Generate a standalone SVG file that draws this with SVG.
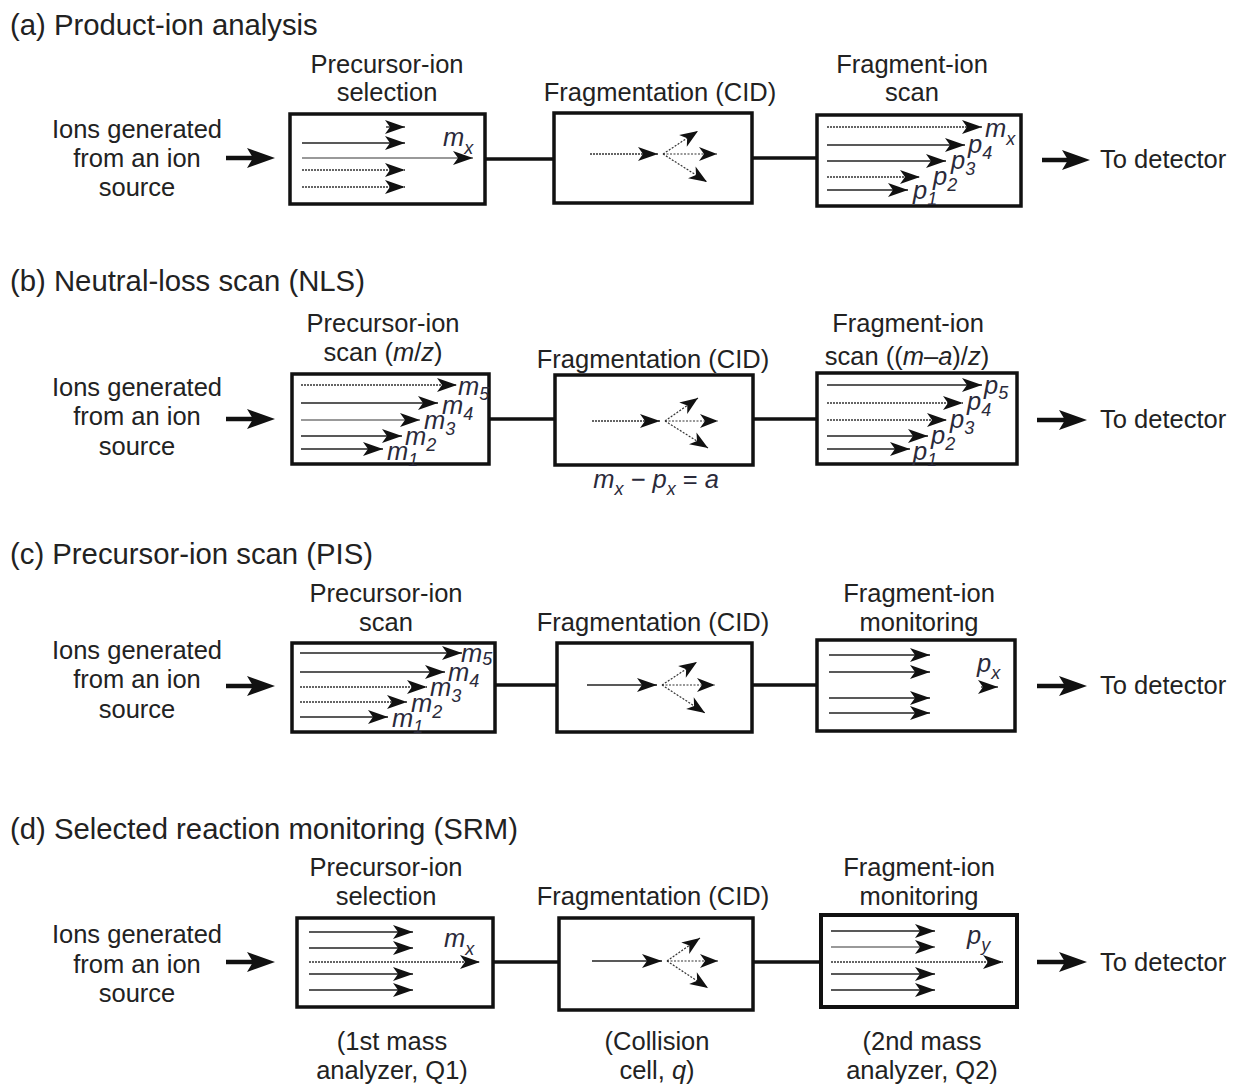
<svg xmlns="http://www.w3.org/2000/svg" width="1235" height="1084" viewBox="0 0 1235 1084">
<style>
text{font-family:"Liberation Sans",Arial,sans-serif;fill:#222}
.t{font-size:29.3px}
.b{font-size:25.5px}
.c{text-anchor:middle}
.it{font-style:italic;font-size:25.5px;fill:#2a2a3a}
.s{font-size:18px}
.box{fill:#fff;stroke:#111;stroke-width:3.5}
.ln{stroke:#222;stroke-width:1.3;fill:none;marker-end:url(#ah)}
.lg{stroke:#777;stroke-width:1.3;fill:none;marker-end:url(#ah)}
.dt{stroke:#333;stroke-width:1.3;stroke-dasharray:2 1;fill:none;marker-end:url(#ah)}
.br{stroke:#333;stroke-width:1.2;stroke-dasharray:2 1.5;fill:none;marker-end:url(#ah2)}
.cn{stroke:#111;stroke-width:3.5;fill:none}
.io{stroke:#111;stroke-width:4.5;fill:none;marker-end:url(#big)}
</style>
<defs>
<marker id="ah" markerUnits="userSpaceOnUse" markerWidth="21" markerHeight="15" refX="20" refY="7" orient="auto" overflow="visible">
<path d="M0,0 L20,7 L0,14 L5,7 Z" fill="#111"/>
</marker>
<marker id="ah2" markerUnits="userSpaceOnUse" markerWidth="19" markerHeight="15" refX="18" refY="7" orient="auto" overflow="visible">
<path d="M0,0 L18,7 L0,14 L5,7 Z" fill="#111"/>
</marker>
<marker id="big" markerUnits="userSpaceOnUse" markerWidth="28" markerHeight="20" refX="8" refY="10" orient="auto" overflow="visible">
<path d="M0,0 L28,10 L0,20 L6,10 Z" fill="#111"/>
</marker>
</defs>

<!-- Titles -->
<text class="t" x="10" y="35">(a) Product-ion analysis</text>
<text class="t" x="10" y="291">(b) Neutral-loss scan (NLS)</text>
<text class="t" x="10" y="564">(c) Precursor-ion scan (PIS)</text>
<text class="t" x="10" y="839">(d) Selected reaction monitoring (SRM)</text>

<!-- ===== Panel a ===== -->
<g id="a-source">
<text class="b c" x="137" y="138">Ions generated</text>
<text class="b c" x="137" y="167">from an ion</text>
<text class="b c" x="137" y="196">source</text>
</g>
<g id="a-precursor">
<text class="b c" x="387" y="73">Precursor-ion</text>
<text class="b c" x="387" y="101">selection</text>
<rect class="box" x="290" y="114" width="195" height="90"/>
<line class="ln" x1="386" y1="127" x2="405" y2="127"/>
<line class="ln" x1="302" y1="143" x2="405" y2="143"/>
<line class="lg" x1="302" y1="158" x2="473" y2="158"/>
<line class="dt" x1="302" y1="170" x2="405" y2="170"/>
<line class="dt" x1="302" y1="187" x2="405" y2="187"/>
<text class="it" x="443" y="146">m<tspan class="s" dy="8">x</tspan></text>
</g>
<g id="a-fragmentation">
<text class="b c" x="660" y="101">Fragmentation (CID)</text>
<rect class="box" x="554" y="113" width="198" height="90"/>
<line class="dt" x1="590" y1="154" x2="658" y2="154"/>
<line class="br" x1="663" y1="154" x2="698" y2="131"/>
<line class="br" x1="663" y1="154" x2="717" y2="154"/>
<line class="br" x1="663" y1="154" x2="707" y2="182"/>
</g>
<g id="a-fragment-scan">
<text class="b c" x="912" y="73">Fragment-ion</text>
<text class="b c" x="912" y="101">scan</text>
<rect class="box" x="817" y="115" width="204" height="91"/>
<line class="dt" x1="827" y1="127" x2="982" y2="127"/>
<line class="ln" x1="827" y1="145" x2="965" y2="145"/>
<line class="ln" x1="827" y1="161" x2="946" y2="161"/>
<line class="dt" x1="827" y1="177" x2="920" y2="177"/>
<line class="ln" x1="827" y1="190" x2="908" y2="190"/>
<text class="it" x="985" y="137">m<tspan class="s" dy="8">x</tspan></text>
<text class="it" x="968" y="153">p<tspan class="s" dy="6">4</tspan></text>
<text class="it" x="951" y="169">p<tspan class="s" dy="6">3</tspan></text>
<text class="it" x="933" y="185">p<tspan class="s" dy="6">2</tspan></text>
<text class="it" x="913" y="199">p<tspan class="s" dy="6">1</tspan></text>
</g>
<g id="a-detector">
<text class="b" x="1100" y="168">To detector</text>
</g>

<!-- ===== Panel b ===== -->
<g id="b-source">
<text class="b c" x="137" y="396">Ions generated</text>
<text class="b c" x="137" y="425">from an ion</text>
<text class="b c" x="137" y="455">source</text>
</g>
<g id="b-precursor">
<text class="b c" x="383" y="332">Precursor-ion</text>
<text class="b c" x="383" y="361">scan (<tspan font-style="italic">m</tspan>/<tspan font-style="italic">z</tspan>)</text>
<rect class="box" x="292" y="374" width="197" height="90"/>
<line class="dt" x1="301" y1="385" x2="457" y2="385"/>
<line class="ln" x1="301" y1="403" x2="438" y2="403"/>
<line class="lg" x1="301" y1="420" x2="420" y2="420"/>
<line class="ln" x1="301" y1="436" x2="402" y2="436"/>
<line class="ln" x1="301" y1="449" x2="383" y2="449"/>
<text class="it" x="458" y="395">m<tspan class="s" dy="5">5</tspan></text>
<text class="it" x="442" y="414">m<tspan class="s" dy="6">4</tspan></text>
<text class="it" x="424" y="429">m<tspan class="s" dy="6">3</tspan></text>
<text class="it" x="405" y="445">m<tspan class="s" dy="6">2</tspan></text>
<text class="it" x="387" y="460">m<tspan class="s" dy="6">1</tspan></text>
</g>
<g id="b-fragmentation">
<text class="b c" x="653" y="368">Fragmentation (CID)</text>
<rect class="box" x="555" y="375" width="198" height="90"/>
<line class="dt" x1="592" y1="421" x2="660" y2="421"/>
<line class="br" x1="665" y1="421" x2="698" y2="398"/>
<line class="br" x1="665" y1="421" x2="718" y2="421"/>
<line class="br" x1="665" y1="421" x2="708" y2="448"/>
<text class="it c" x="656" y="488">m<tspan class="s" dy="7">x</tspan><tspan dy="-7"> − p</tspan><tspan class="s" dy="7">x</tspan><tspan dy="-7" font-style="normal"> = </tspan>a</text>
</g>
<g id="b-fragment-scan">
<text class="b c" x="908" y="332">Fragment-ion</text>
<text class="b c" x="907" y="365">scan ((<tspan font-style="italic">m</tspan>–<tspan font-style="italic">a</tspan>)/<tspan font-style="italic">z</tspan>)</text>
<rect class="box" x="817" y="373" width="200" height="91"/>
<line class="ln" x1="827" y1="385" x2="982" y2="385"/>
<line class="dt" x1="827" y1="403" x2="963" y2="403"/>
<line class="dt" x1="827" y1="420" x2="947" y2="420"/>
<line class="ln" x1="827" y1="436" x2="928" y2="436"/>
<line class="ln" x1="827" y1="449" x2="910" y2="449"/>
<text class="it" x="984" y="394">p<tspan class="s" dy="5">5</tspan></text>
<text class="it" x="967" y="410">p<tspan class="s" dy="6">4</tspan></text>
<text class="it" x="950" y="428">p<tspan class="s" dy="6">3</tspan></text>
<text class="it" x="931" y="444">p<tspan class="s" dy="6">2</tspan></text>
<text class="it" x="913" y="460">p<tspan class="s" dy="6">1</tspan></text>
</g>
<g id="b-detector">
<text class="b" x="1100" y="428">To detector</text>
</g>

<!-- ===== Panel c ===== -->
<g id="c-source">
<text class="b c" x="137" y="659">Ions generated</text>
<text class="b c" x="137" y="688">from an ion</text>
<text class="b c" x="137" y="718">source</text>
</g>
<g id="c-precursor">
<text class="b c" x="386" y="602">Precursor-ion</text>
<text class="b c" x="386" y="631">scan</text>
<rect class="box" x="292" y="643" width="203" height="89"/>
<line class="ln" x1="300" y1="653" x2="462" y2="653"/>
<line class="ln" x1="300" y1="672" x2="445" y2="672"/>
<line class="dt" x1="300" y1="687" x2="427" y2="687"/>
<line class="dt" x1="300" y1="702" x2="407" y2="702"/>
<line class="ln" x1="300" y1="717" x2="388" y2="717"/>
<text class="it" x="461" y="662">m<tspan class="s" dy="3">5</tspan></text>
<text class="it" x="448" y="681">m<tspan class="s" dy="6">4</tspan></text>
<text class="it" x="430" y="696">m<tspan class="s" dy="6">3</tspan></text>
<text class="it" x="411" y="712">m<tspan class="s" dy="6">2</tspan></text>
<text class="it" x="392" y="727">m<tspan class="s" dy="6">1</tspan></text>
</g>
<g id="c-fragmentation">
<text class="b c" x="653" y="631">Fragmentation (CID)</text>
<rect class="box" x="557" y="643" width="195" height="89"/>
<line class="ln" x1="587" y1="685" x2="657" y2="685"/>
<line class="br" x1="662" y1="685" x2="697" y2="662"/>
<line class="br" x1="662" y1="685" x2="715" y2="685"/>
<line class="br" x1="662" y1="685" x2="705" y2="713"/>
</g>
<g id="c-fragment-monitor">
<text class="b c" x="919" y="602">Fragment-ion</text>
<text class="b c" x="919" y="631">monitoring</text>
<rect class="box" x="817" y="640" width="198" height="91"/>
<line class="ln" x1="829" y1="655" x2="930" y2="655"/>
<line class="ln" x1="829" y1="672" x2="930" y2="672"/>
<line class="ln" x1="829" y1="698" x2="930" y2="698"/>
<line class="ln" x1="829" y1="713" x2="930" y2="713"/>
<line class="ln" x1="981" y1="687" x2="998" y2="687"/>
<text class="it" x="977" y="672">p<tspan class="s" dy="7">x</tspan></text>
</g>
<g id="c-detector">
<text class="b" x="1100" y="694">To detector</text>
</g>

<!-- ===== Panel d ===== -->
<g id="d-source">
<text class="b c" x="137" y="943">Ions generated</text>
<text class="b c" x="137" y="973">from an ion</text>
<text class="b c" x="137" y="1002">source</text>
</g>
<g id="d-precursor">
<text class="b c" x="386" y="876">Precursor-ion</text>
<text class="b c" x="386" y="905">selection</text>
<rect class="box" x="297" y="918" width="196" height="89"/>
<line class="ln" x1="309" y1="932" x2="413" y2="932"/>
<line class="ln" x1="309" y1="948" x2="413" y2="948"/>
<line class="dt" x1="309" y1="962" x2="480" y2="962"/>
<line class="ln" x1="309" y1="974" x2="413" y2="974"/>
<line class="ln" x1="309" y1="990" x2="413" y2="990"/>
<text class="it" x="444" y="947">m<tspan class="s" dy="8">x</tspan></text>
<text class="b c" x="392" y="1050">(1st mass</text>
<text class="b c" x="392" y="1079">analyzer, Q1)</text>
</g>
<g id="d-fragmentation">
<text class="b c" x="653" y="905">Fragmentation (CID)</text>
<rect class="box" x="559" y="918" width="194" height="92"/>
<line class="ln" x1="592" y1="961" x2="662" y2="961"/>
<line class="br" x1="667" y1="961" x2="700" y2="938"/>
<line class="br" x1="667" y1="961" x2="718" y2="961"/>
<line class="br" x1="667" y1="961" x2="708" y2="988"/>
<text class="b c" x="657" y="1050">(Collision</text>
<text class="b c" x="657" y="1079">cell, <tspan font-style="italic">q</tspan>)</text>
</g>
<g id="d-fragment-monitor">
<text class="b c" x="919" y="876">Fragment-ion</text>
<text class="b c" x="919" y="905">monitoring</text>
<rect class="box" x="821" y="915" width="196" height="92" style="stroke-width:4"/>
<line class="ln" x1="831" y1="931" x2="935" y2="931"/>
<line class="lg" x1="831" y1="947" x2="935" y2="947"/>
<line class="dt" x1="831" y1="962" x2="1003" y2="962"/>
<line class="ln" x1="831" y1="974" x2="935" y2="974"/>
<line class="ln" x1="831" y1="990" x2="935" y2="990"/>
<text class="it" x="967" y="944">p<tspan class="s" dy="7">y</tspan></text>
<text class="b c" x="922" y="1050">(2nd mass</text>
<text class="b c" x="922" y="1079">analyzer, Q2)</text>
</g>
<g id="d-detector">
<text class="b" x="1100" y="971">To detector</text>
</g>

<!-- ===== Connectors ===== -->
<g id="connectors">
<line class="io" x1="226" y1="158" x2="255" y2="158"/>
<line class="cn" x1="485" y1="159" x2="554" y2="159"/>
<line class="cn" x1="752" y1="158" x2="817" y2="158"/>
<line class="io" x1="1042" y1="160" x2="1070" y2="160"/>

<line class="io" x1="226" y1="419" x2="255" y2="419"/>
<line class="cn" x1="489" y1="419" x2="555" y2="419"/>
<line class="cn" x1="753" y1="419" x2="817" y2="419"/>
<line class="io" x1="1037" y1="420" x2="1067" y2="420"/>

<line class="io" x1="226" y1="686" x2="255" y2="686"/>
<line class="cn" x1="495" y1="685" x2="557" y2="685"/>
<line class="cn" x1="752" y1="685" x2="817" y2="685"/>
<line class="io" x1="1037" y1="686" x2="1067" y2="686"/>

<line class="io" x1="226" y1="962" x2="255" y2="962"/>
<line class="cn" x1="493" y1="962" x2="559" y2="962"/>
<line class="cn" x1="753" y1="962" x2="821" y2="962"/>
<line class="io" x1="1037" y1="962" x2="1067" y2="962"/>
</g>
</svg>
